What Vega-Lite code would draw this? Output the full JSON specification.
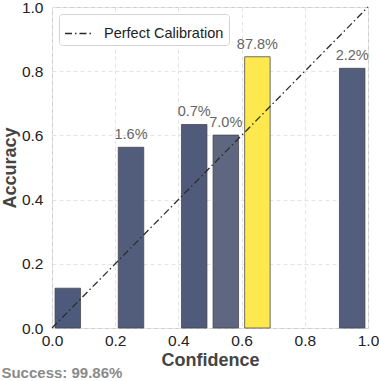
{
  "$schema": "https://vega.github.io/schema/vega-lite/v6.json",
  "width": 316,
  "height": 321,
  "autosize": {"type": "none"},
  "padding": {"left": 52, "top": 7, "right": 11, "bottom": 53},
  "background": "white",
  "title": {
    "text": "Success: 99.86%",
    "orient": "bottom",
    "anchor": "start",
    "frame": "bounds",
    "offset": -4,
    "font": "Liberation Sans",
    "fontSize": 15,
    "fontWeight": "bold",
    "color": "#8a8a8a"
  },
  "datasets": {
    "bins": [
      {"conf": 0.05, "acc": 0.124, "share": 0.001},
      {"conf": 0.25, "acc": 0.563, "share": 0.016},
      {"conf": 0.45, "acc": 0.634, "share": 0.007},
      {"conf": 0.55, "acc": 0.601, "share": 0.070},
      {"conf": 0.65, "acc": 0.845, "share": 0.878},
      {"conf": 0.95, "acc": 0.809, "share": 0.022}
    ],
    "diag": [
      {"conf": 0, "acc": 0, "series": "Perfect Calibration"},
      {"conf": 1, "acc": 1, "series": "Perfect Calibration"}
    ]
  },
  "layer": [
    {
      "data": {"name": "bins"},
      "mark": {"type": "bar", "orient": "vertical", "size": 25.5, "stroke": "#444444", "strokeWidth": 0.9, "strokeOpacity": 0.85},
      "encoding": {
        "x": {
          "field": "conf", "type": "quantitative",
          "scale": {"domain": [0, 1], "nice": false, "zero": false, "padding": 0},
          "axis": {"values": [0, 0.2, 0.4, 0.6, 0.8, 1.0], "format": ".1f", "title": "Confidence", "labelFlush": false}
        },
        "y": {
          "field": "acc", "type": "quantitative",
          "scale": {"domain": [0, 1], "nice": false},
          "axis": {"values": [0, 0.2, 0.4, 0.6, 0.8, 1.0], "format": ".1f", "title": "Accuracy"}
        },
        "color": {
          "field": "share", "type": "quantitative",
          "scale": {"domain": [0, 0.07, 0.878], "range": ["#4e5a7b", "#5e6680", "#fde94e"], "interpolate": "rgb"},
          "legend": null
        }
      }
    },
    {
      "data": {"name": "diag"},
      "mark": {"type": "line", "strokeWidth": 1.3, "color": "#2b2b2b"},
      "encoding": {
        "x": {"field": "conf", "type": "quantitative"},
        "y": {"field": "acc", "type": "quantitative"},
        "strokeDash": {
          "field": "series", "type": "nominal",
          "scale": {"range": [[7, 3, 1.5, 3]]},
          "legend": {"title": null}
        }
      }
    },
    {
      "data": {"name": "bins"},
      "transform": [{"filter": "datum.share >= 0.005"}],
      "mark": {"type": "text", "baseline": "alphabetic", "dy": -8, "font": "Liberation Sans", "fontSize": 14.5, "color": "#666666"},
      "encoding": {
        "x": {"field": "conf", "type": "quantitative"},
        "y": {"field": "acc", "type": "quantitative"},
        "text": {"field": "share", "type": "quantitative", "format": ".1%"}
      }
    }
  ],
  "config": {
    "view": {"stroke": "#cccccc", "strokeWidth": 1},
    "font": "Liberation Sans",
    "axis": {
      "domain": false,
      "ticks": false,
      "grid": true,
      "gridColor": "#e3e3e3",
      "gridDash": [4, 3],
      "gridWidth": 1,
      "labelFont": "Liberation Sans",
      "labelFontSize": 15.5,
      "labelColor": "#222222",
      "titleFont": "Liberation Sans",
      "titleFontSize": 18,
      "titleFontWeight": "bold",
      "titleColor": "#444444"
    },
    "axisX": {"labelPadding": 5, "titlePadding": 3},
    "axisY": {"labelPadding": 9, "titlePadding": 2},
    "legend": {
      "orient": "top-left",
      "offset": 7,
      "padding": 5,
      "strokeColor": "#d4d4d4",
      "fillColor": "white",
      "cornerRadius": 3,
      "labelFont": "Liberation Sans",
      "labelFontSize": 14.5,
      "labelColor": "#222222",
      "labelOffset": 11,
      "symbolType": "stroke",
      "symbolSize": 729,
      "symbolStrokeWidth": 1.3,
      "symbolStrokeColor": "#2b2b2b"
    }
  }
}
